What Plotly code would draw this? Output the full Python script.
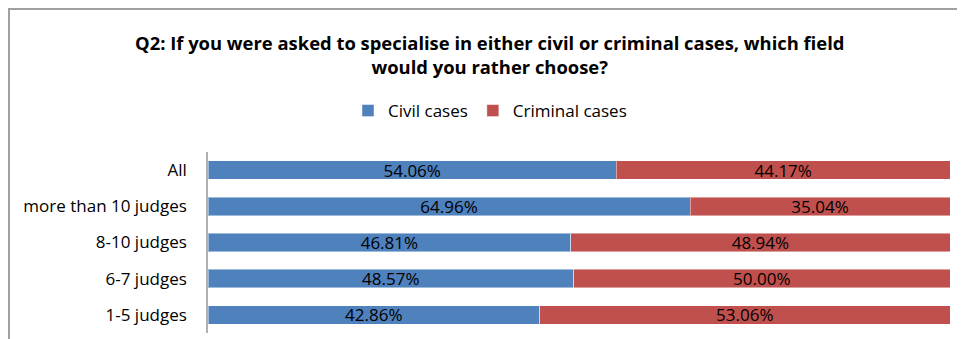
import plotly.graph_objects as go

categories = ["All", "more than 10 judges", "8-10 judges", "6-7 judges", "1-5 judges"]
civil = [54.06, 64.96, 46.81, 48.57, 42.86]
criminal = [44.17, 35.04, 48.94, 50.00, 53.06]

# page is shown with an 8px body margin, so the figure is sized/offset accordingly
W, H = 957, 331
L, R, T, B = 200, 15, 144, 6
OFF = 8

FONT = "Open Sans"

fig = go.Figure()
for name, vals, color in [("Civil cases", civil, "#4F81BD"), ("Criminal cases", criminal, "#C0504D")]:
    fig.add_trace(go.Bar(
        y=categories, x=vals, name=name, orientation="h",
        marker=dict(color=color, line=dict(color="rgba(255,255,255,0.45)", width=1)),
        text=[f"{v:.2f}%" for v in vals], textposition="inside",
        insidetextanchor="middle", textangle=0,
        textfont=dict(color="#000000", size=17, family=FONT),
        hoverinfo="skip",
    ))

pw = W - L - R
ph = H - T - B
def px2x(px):
    return (px - OFF - L) / pw
def py2y(py):
    return (H - B - (py - OFF)) / ph

fig.update_layout(
    width=W, height=H, barmode="stack", barnorm="percent", bargap=0.49,
    margin=dict(l=L, r=R, t=T, b=B, autoexpand=False),
    paper_bgcolor="white", plot_bgcolor="white",
    font=dict(family=FONT, size=17, color="#000000"),
    uniformtext=dict(minsize=17, mode="show"),
    showlegend=True,
    legend=dict(orientation="h", x=px2x(490), xanchor="center", y=py2y(111), yanchor="middle",
                font=dict(size=17), itemwidth=30, traceorder="normal", tracegroupgap=0),
    xaxis=dict(visible=False, range=[0, 100], fixedrange=True),
    yaxis=dict(autorange="reversed", showline=True, linecolor="#B0B0B0", linewidth=1.5,
               ticks="", ticklabelstandoff=16, showgrid=False, tickfont=dict(size=17),
               automargin=False),
    shapes=[dict(type="rect", xref="paper", yref="paper",
                 x0=px2x(9), x1=px2x(1000), y0=py2y(380), y1=py2y(9),
                 line=dict(color="#A0A0A0", width=2), fillcolor="rgba(0,0,0,0)", layer="below")],
    annotations=[dict(text="<b>Q2: If you were asked to specialise in either civil or criminal cases, which field<br>would you rather choose?</b>",
                      xref="paper", yref="paper", x=px2x(489), y=py2y(55), xanchor="center", yanchor="middle",
                      showarrow=False, font=dict(size=18.4, family=FONT), align="center")],
)

fig.write_html("out.html")
